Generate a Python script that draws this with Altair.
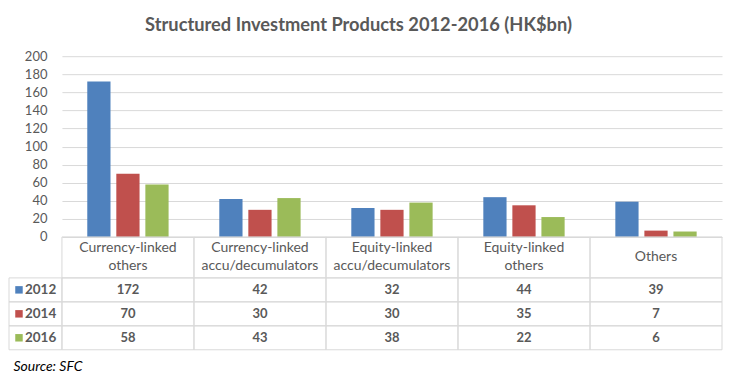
import altair as alt
import pandas as pd

categories = [
    "Currency-linked\nothers",
    "Currency-linked\naccu/decumulators",
    "Equity-linked\naccu/decumulators",
    "Equity-linked\nothers",
    "Others",
]
years = ["2012", "2014", "2016"]
values_2012 = [172, 42, 32, 44, 39]
values_2014 = [70, 30, 30, 35, 7]
values_2016 = [58, 43, 38, 22, 6]
colors = ["#4F81BD", "#C0504D", "#9BBB59"]
y_ticks = [0, 20, 40, 60, 80, 100, 120, 140, 160, 180, 200]

rows = []
for yr, vals in zip(years, [values_2012, values_2014, values_2016]):
    for c, v in zip(categories, vals):
        rows.append({"category": c, "year": yr, "value": v})
df = pd.DataFrame(rows)
hdr = pd.DataFrame({"category": categories})
yrs = pd.DataFrame({"year": years})

FONT = "Lato"
GRAY = "#595959"
LINE = "#D9D9D9"

color = alt.Color("year:N", sort=years, scale=alt.Scale(domain=years, range=colors), legend=None)

bars = alt.Chart(df).mark_bar().encode(
    x=alt.X("category:N", sort=categories, axis=None,
            scale=alt.Scale(paddingInner=0.34, paddingOuter=0.17)),
    xOffset=alt.XOffset("year:N", sort=years,
                        scale=alt.Scale(paddingInner=0.2, paddingOuter=0.1)),
    y=alt.Y("value:Q", scale=alt.Scale(domain=[0, 200], nice=False),
            axis=alt.Axis(values=y_ticks, title=None, domain=False, ticks=False,
                          labelPadding=15, labelFont=FONT, labelFontSize=13,
                          labelColor=GRAY, gridColor=LINE, gridWidth=1)),
    color=color,
).properties(width=661, height=181)

xcat = alt.X("category:N", sort=categories, axis=None,
             scale=alt.Scale(paddingInner=0, paddingOuter=0))

header_cells = alt.Chart(hdr).mark_rect(fillOpacity=0, stroke=LINE, strokeWidth=1).encode(x=xcat)
header_text2 = alt.Chart(hdr).transform_filter(
    "indexof(datum.category, '\\n') >= 0"
).mark_text(
    font=FONT, fontSize=14, color=GRAY, lineBreak="\n", lineHeight=18, dy=-9
).encode(x=xcat, text="category:N")
header_text1 = alt.Chart(hdr).transform_filter(
    "indexof(datum.category, '\\n') < 0"
).mark_text(
    font=FONT, fontSize=14, color=GRAY
).encode(x=xcat, text="category:N")
header = alt.layer(header_cells, header_text2, header_text1).properties(width=661, height=41)

yrow = alt.Y("year:N", sort=years, axis=None,
             scale=alt.Scale(paddingInner=0, paddingOuter=0))

cells = alt.Chart(df).mark_rect(fillOpacity=0, stroke=LINE, strokeWidth=1).encode(x=xcat, y=yrow)
label_cells = alt.Chart(yrs).mark_rect(fillOpacity=0, stroke=LINE, strokeWidth=1).encode(
    x=alt.value(-53), x2=alt.value(0), y=yrow)
value_text = alt.Chart(df).mark_text(
    font=FONT, fontSize=13, fontWeight="bold", color=GRAY
).encode(x=xcat, y=yrow, text="value:Q")
keys = alt.Chart(yrs).mark_square(size=56, opacity=1).encode(
    x=alt.value(-43), y=yrow, color=color)
key_text = alt.Chart(yrs).mark_text(
    align="left", font=FONT, fontSize=13.5, fontWeight="bold", color=GRAY
).encode(x=alt.value(-37), y=yrow, text="year:N")

table = alt.layer(cells, label_cells, value_text, keys, key_text).properties(
    width=661, height=72,
    title=alt.TitleParams("Source: SFC", orient="bottom", anchor="start",
                          font=FONT, fontSize=14, fontStyle="italic",
                          fontWeight="normal", color="#000000", dx=5, offset=10),
)

chart = alt.vconcat(bars, header, table, spacing=0, bounds="flush").resolve_scale(
    x="independent", y="independent"
).properties(
    title=alt.TitleParams("Structured Investment Products 2012-2016 (HK$bn)",
                          font=FONT, fontSize=18.3, fontWeight="bold", color=GRAY,
                          anchor="middle", offset=14, dx=-7),
    padding={"left": 0, "top": 8, "right": 0, "bottom": 0},
).configure_view(stroke="transparent")

chart.save("out.html", embed_options={"renderer": "svg", "actions": False})
